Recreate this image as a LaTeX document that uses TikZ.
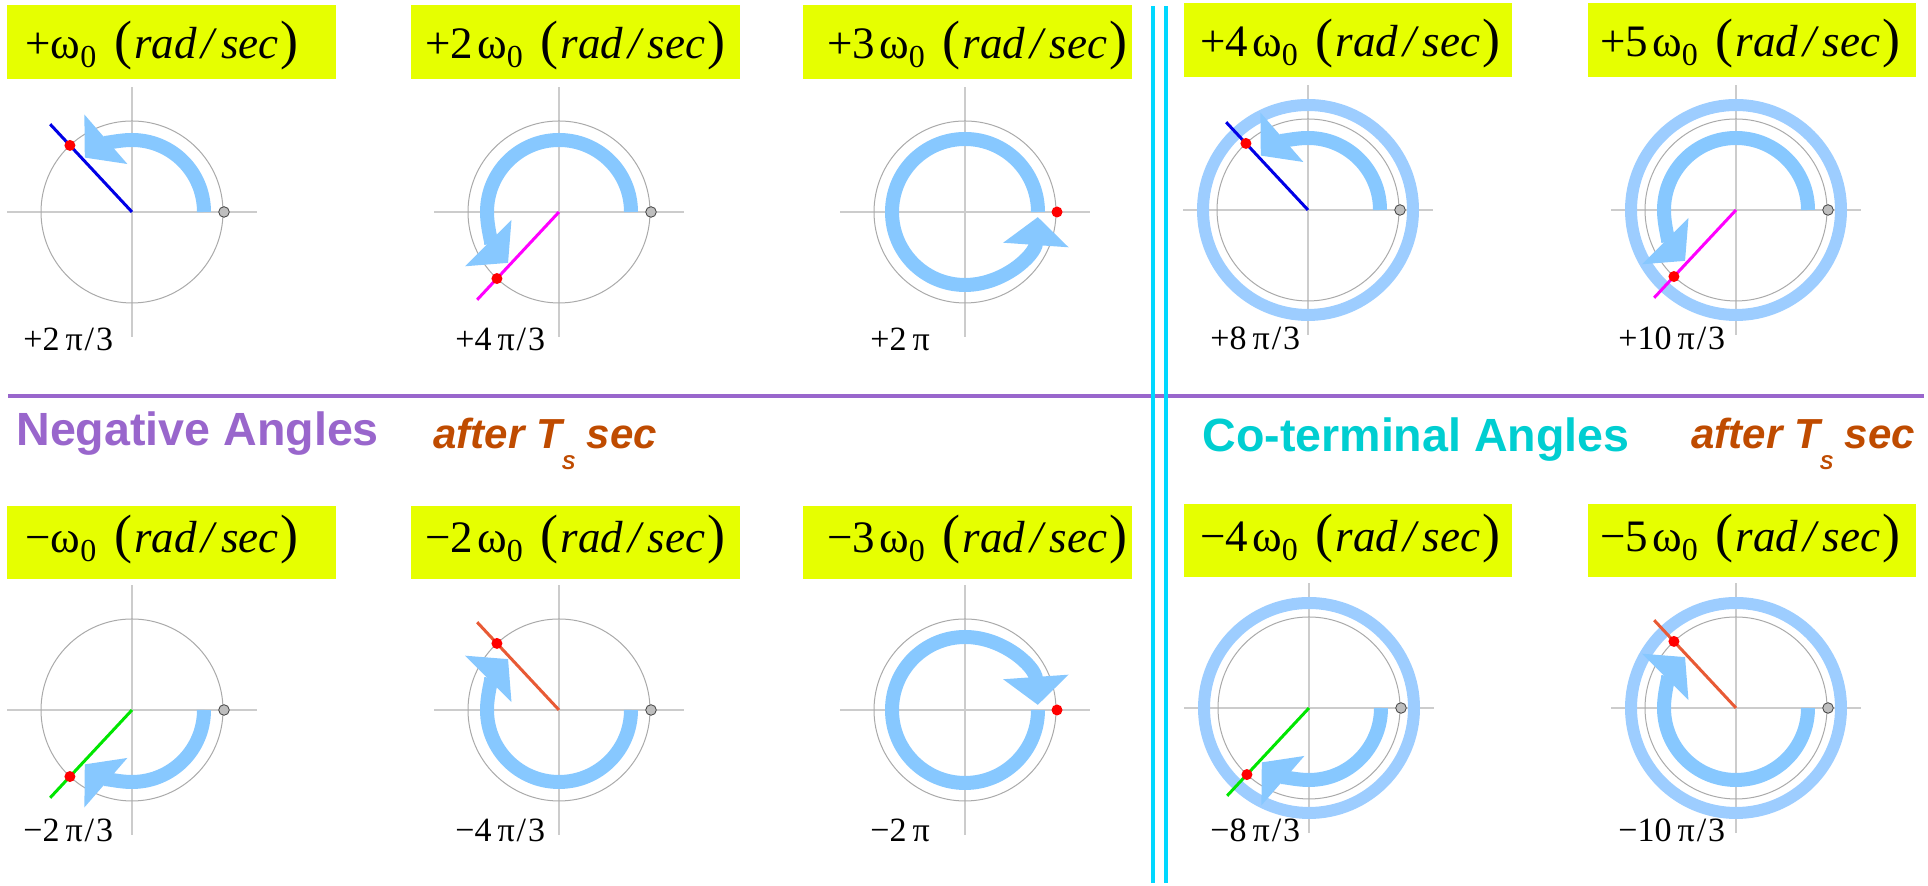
\documentclass[tikz,border=0pt]{standalone}
\usepackage{fontspec}
\setmainfont{Liberation Serif}
\newfontfamily\sansfam{Liberation Sans}
\usetikzlibrary{arrows.meta}
\definecolor{yboxcol}{HTML}{E6FF00}
\definecolor{arcblue}{HTML}{87C8FF}
\definecolor{ringblue}{HTML}{9DCDFF}
\definecolor{axgray}{HTML}{CCCCCC}
\definecolor{circgray}{HTML}{AAAAAA}
\definecolor{dotgray}{HTML}{BEBEBE}
\definecolor{purp}{HTML}{9966CC}
\definecolor{aftercol}{HTML}{BF4B00}
\definecolor{cyanline}{HTML}{00D8FF}
\definecolor{cyantext}{HTML}{00CED1}
\definecolor{lblue}{HTML}{0000E6}
\definecolor{lmag}{HTML}{FF00FF}
\definecolor{lgreen}{HTML}{00E600}
\definecolor{lorange}{HTML}{E85A35}
\newcommand{\bigpar}[1]{{\fontsize{27}{27}\selectfont #1}}
\newcommand{\rate}[1]{{\fontsize{22.5}{27}\selectfont #1ω\raisebox{-4.5pt}{\fontsize{16}{16}\selectfont 0}\hspace{9pt}\bigpar{(}\hspace{1pt}\textit{rad\hspace{2.5pt}/\hspace{3.5pt}sec}\hspace{1pt}\bigpar{)}}}
\newcommand{\afterts}{{\sansfam\bfseries\itshape\fontsize{21}{21}\selectfont after T\raisebox{-10.5pt}{\fontsize{10}{10}\selectfont S} sec}}
\newcommand{\dial}[1]{%
  \draw[axline] (#1) ++(-125,0) -- ++(250,0);
  \draw[axline] (#1) ++(0,-125) -- ++(0,250);
  \draw[unitcirc] (#1) circle[radius=91];}
\newcommand{\overthree}[1]{#1\hspace{1pt}/\hspace{1pt}3}
\begin{document}
\begin{tikzpicture}[x=0.5pt,y=0.5pt,
  axline/.style={draw=axgray, line width=0.75pt},
  unitcirc/.style={draw=circgray, line width=0.5pt},
  coterm/.style={draw=ringblue, line width=6pt},
  spinarc/.style={draw=arcblue, line width=7pt, -{Triangle[width=32pt,length=14pt]}},
  phasor/.style={line width=1.5pt},
  reddot/.style={circle, fill=red, inner sep=0pt, minimum size=5.5pt},
  graydot/.style={circle, fill=dotgray, draw=black!75, line width=0.4pt, inner sep=0pt, minimum size=5.3pt},
  ybox/.style={fill=yboxcol},
  ratetext/.style={anchor=base west, inner sep=0pt},
  angtext/.style={anchor=base west, inner sep=0pt, font=\fontsize{17}{17}\selectfont},
  title/.style={anchor=base west, inner sep=0pt}]
\useasboundingbox (0,0) rectangle (1928,886);

% separators
\draw[purp, line width=2pt] (8,490) -- (1924,490);
\draw[cyanline, line width=2pt] (1153,3) -- (1153,880);
\draw[cyanline, line width=2pt] (1166,3) -- (1166,880);

% section titles
\node[title] (negt) at (16,440) {\sansfam\bfseries\fontsize{23.3}{23.3}\selectfont\color{purp}Negative Angles};
\node[title] (aft1) at (433,437) {\color{aftercol}\afterts};
\node[title] (cot) at (1202,434) {\sansfam\bfseries\fontsize{23.3}{23.3}\selectfont\color{cyantext}Co-terminal Angles};
\node[title] (aft2) at (1691,437) {\color{aftercol}\afterts};

% yellow boxes
\fill[ybox] (7,807) rectangle (336,881);
\fill[ybox] (411,807) rectangle (740,881);
\fill[ybox] (803,807) rectangle (1132,881);
\fill[ybox] (1184,809) rectangle (1512,883);
\fill[ybox] (1588,809) rectangle (1916,883);
\fill[ybox] (7,307) rectangle (336,380);
\fill[ybox] (411,307) rectangle (740,380);
\fill[ybox] (803,307) rectangle (1132,380);
\fill[ybox] (1184,309) rectangle (1512,382);
\fill[ybox] (1588,309) rectangle (1916,382);

\node[ratetext] (t1) at (25,827) {\rate{+}};
\node[ratetext] (t2) at (425,827) {\rate{+2\hspace{2pt}}};
\node[ratetext] (t3) at (827,827) {\rate{+3\hspace{2pt}}};
\node[ratetext] (t4) at (1200,829) {\rate{+4\hspace{2pt}}};
\node[ratetext] (t5) at (1600,829) {\rate{+5\hspace{2pt}}};
\node[ratetext] (t6) at (25,333) {\rate{−}};
\node[ratetext] (t7) at (425,333) {\rate{−2\hspace{2pt}}};
\node[ratetext] (t8) at (827,333) {\rate{−3\hspace{2pt}}};
\node[ratetext] (t9) at (1200,334) {\rate{−4\hspace{2pt}}};
\node[ratetext] (t10) at (1600,334) {\rate{−5\hspace{2pt}}};

% centres
\coordinate (c1) at (132,674);
\coordinate (c2) at (559,674);
\coordinate (c3) at (965,674);
\coordinate (c4) at (1308,676);
\coordinate (c5) at (1736,676);
\coordinate (c6) at (132,176);
\coordinate (c7) at (559,176);
\coordinate (c8) at (965,176);
\coordinate (c9) at (1309,178);
\coordinate (c10) at (1736,178);

% panel 1: +2pi/3
\dial{c1}
\draw[spinarc] (c1) ++(0:72) arc[start angle=0,end angle=131,radius=72];
\draw[phasor,lblue] (c1) -- ++(133:120);
\node[graydot] (g1) at ([shift={(0:92)}]c1) {};
\node[reddot] (r1) at ([shift={(133:91)}]c1) {};
\node[angtext] (a1) at (23,535) {+2\hspace{3pt}\overthree{π}};

% panel 2: +4pi/3
\dial{c2}
\draw[spinarc] (c2) ++(0:72) arc[start angle=0,end angle=225,radius=72];
\draw[phasor,lmag] (c2) -- ++(227:120);
\node[graydot] (g2) at ([shift={(0:92)}]c2) {};
\node[reddot] (r2) at ([shift={(227:91)}]c2) {};
\node[angtext] (a2) at (455,535) {+4\hspace{3pt}\overthree{π}};

% panel 3: +2pi
\dial{c3}
\draw[spinarc] (c3) ++(0:73) arc[start angle=0,end angle=356,radius=73];
\node[reddot] (r3) at ([shift={(0:92)}]c3) {};
\node[angtext] (a3) at (870,535) {+2\hspace{3pt}π};

% panel 4: +8pi/3
\dial{c4}
\draw[coterm] (c4) circle[radius=105];
\draw[spinarc] (c4) ++(0:72) arc[start angle=0,end angle=131,radius=72];
\draw[phasor,lblue] (c4) -- ++(133:120);
\node[graydot] (g4) at ([shift={(0:92)}]c4) {};
\node[reddot] (r4) at ([shift={(133:91)}]c4) {};
\node[angtext] (a4) at (1210,536) {+8\hspace{3pt}\overthree{π}};

% panel 5: +10pi/3
\dial{c5}
\draw[coterm] (c5) circle[radius=105];
\draw[spinarc] (c5) ++(0:72) arc[start angle=0,end angle=225,radius=72];
\draw[phasor,lmag] (c5) -- ++(227:120);
\node[graydot] (g5) at ([shift={(0:92)}]c5) {};
\node[reddot] (r5) at ([shift={(227:91)}]c5) {};
\node[angtext] (a5) at (1618,536) {+10\hspace{3pt}\overthree{π}};

% panel 6: -2pi/3
\dial{c6}
\draw[spinarc] (c6) ++(0:72) arc[start angle=0,end angle=-131,radius=72];
\draw[phasor,lgreen] (c6) -- ++(227:120);
\node[graydot] (g6) at ([shift={(0:92)}]c6) {};
\node[reddot] (r6) at ([shift={(227:91)}]c6) {};
\node[angtext] (a6) at (23,44) {−2\hspace{3pt}\overthree{π}};

% panel 7: -4pi/3
\dial{c7}
\draw[spinarc] (c7) ++(0:72) arc[start angle=0,end angle=-225,radius=72];
\draw[phasor,lorange] (c7) -- ++(133:120);
\node[graydot] (g7) at ([shift={(0:92)}]c7) {};
\node[reddot] (r7) at ([shift={(133:91)}]c7) {};
\node[angtext] (a7) at (455,44) {−4\hspace{3pt}\overthree{π}};

% panel 8: -2pi
\dial{c8}
\draw[spinarc] (c8) ++(0:73) arc[start angle=0,end angle=-356,radius=73];
\node[reddot] (r8) at ([shift={(0:92)}]c8) {};
\node[angtext] (a8) at (870,44) {−2\hspace{3pt}π};

% panel 9: -8pi/3
\dial{c9}
\draw[coterm] (c9) circle[radius=105];
\draw[spinarc] (c9) ++(0:72) arc[start angle=0,end angle=-131,radius=72];
\draw[phasor,lgreen] (c9) -- ++(227:120);
\node[graydot] (g9) at ([shift={(0:92)}]c9) {};
\node[reddot] (r9) at ([shift={(227:91)}]c9) {};
\node[angtext] (a9) at (1210,44) {−8\hspace{3pt}\overthree{π}};

% panel 10: -10pi/3
\dial{c10}
\draw[coterm] (c10) circle[radius=105];
\draw[spinarc] (c10) ++(0:72) arc[start angle=0,end angle=-225,radius=72];
\draw[phasor,lorange] (c10) -- ++(133:120);
\node[graydot] (g10) at ([shift={(0:92)}]c10) {};
\node[reddot] (r10) at ([shift={(133:91)}]c10) {};
\node[angtext] (a10) at (1618,44) {−10\hspace{3pt}\overthree{π}};
\end{tikzpicture}
\end{document}
